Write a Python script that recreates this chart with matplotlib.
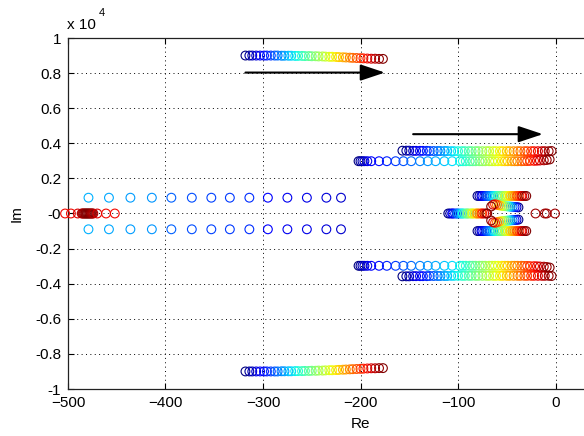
import numpy as np
import matplotlib
matplotlib.use('Agg')
import matplotlib.pyplot as plt

plt.rcParams['font.family'] = ['Liberation Sans', 'DejaVu Sans']

# root locus, Im axis in units of 1e4, each branch ordered by gain (jet colour)
top_re = [-318, -314, -311, -307, -303, -299, -296, -292, -288, -285,
          -281, -278, -274, -271, -267, -264, -260, -257, -253, -250,
          -246, -243, -239, -236, -232, -229, -225, -222, -218, -215,
          -211, -208, -204, -200, -197, -193, -189, -185, -181, -177]
top_im = [0.900, 0.900, 0.900, 0.900, 0.900, 0.900, 0.900, 0.900, 0.900, 0.900,
          0.899, 0.899, 0.899, 0.899, 0.898, 0.898, 0.898, 0.897, 0.897, 0.896,
          0.896, 0.895, 0.895, 0.894, 0.893, 0.893, 0.892, 0.891, 0.890, 0.889,
          0.888, 0.887, 0.886, 0.885, 0.884, 0.883, 0.882, 0.882, 0.881, 0.881]

outer_re = [-157, -153, -150, -146, -143, -139, -136, -132, -129, -125,
            -121, -118, -114, -111, -107, -104, -100, -96, -93, -89,
            -86, -82, -79, -75, -71, -68, -64, -61, -57, -54,
            -50, -47, -43, -39, -36, -32, -29, -25, -22, -18,
            -14, -11, -7, -4]
outer_im = [0.358, 0.358, 0.358, 0.357, 0.357, 0.357, 0.357, 0.357, 0.356, 0.356,
            0.356, 0.356, 0.356, 0.356, 0.355, 0.355, 0.355, 0.355, 0.355, 0.355,
            0.355, 0.355, 0.355, 0.355, 0.355, 0.355, 0.355, 0.355, 0.355, 0.355,
            0.355, 0.355, 0.355, 0.355, 0.355, 0.355, 0.355, 0.355, 0.355, 0.355,
            0.355, 0.355, 0.355, 0.356]

inner_re = [-202, -200, -198, -196, -193,
            -189, -181, -173, -164, -156, -148, -139, -131, -123, -114, -106, -98,
            -95, -92, -88, -85, -82, -78, -75, -72, -68, -65,
            -62, -59, -55, -52, -49, -45, -42, -39, -35, -32,
            -29, -26, -22, -19, -16, -12, -9, -6]
inner_im = [0.298, 0.298, 0.298, 0.298, 0.298,
            0.298, 0.298, 0.298, 0.298, 0.298, 0.298, 0.298, 0.298, 0.298, 0.298, 0.298, 0.298,
            0.298, 0.298, 0.298, 0.298, 0.298, 0.298, 0.298, 0.298, 0.298, 0.298,
            0.298, 0.298, 0.298, 0.298, 0.298, 0.298, 0.298, 0.298, 0.298, 0.299,
            0.299, 0.300, 0.300, 0.301, 0.302, 0.303, 0.305, 0.308]

far_re = [-479, -458, -436, -414, -394, -373, -353, -334, -314, -295, -275, -255, -235, -220]
far_im = [0.09, 0.09, 0.09, 0.09, 0.09, 0.09, 0.09, 0.09, 0.09, 0.09, 0.09, 0.09, 0.09, 0.09]
far_t = [0.30, 0.29, 0.28, 0.27, 0.22, 0.20, 0.19, 0.18, 0.17, 0.12, 0.10, 0.09, 0.08, 0.07]

left_real_re = [-503, -497, -490, -486, -485, -484, -483, -482, -481, -480,
                -479, -478, -477, -476, -475, -474, -470, -461, -452]
left_real_t = [0.90, 0.90, 0.92, 0.95, 0.96, 0.97, 0.98, 0.99, 1.00, 1.00,
               1.00, 1.00, 0.99, 0.98, 0.97, 0.96, 0.92, 0.90, 0.90]

near_re = [-80, -78, -76, -75, -73, -71, -70, -68, -66, -64,
           -63, -61, -59, -58, -56, -54, -52, -51, -49, -47,
           -46, -44, -42, -40, -39, -37, -35, -34, -32, -30]
near_im = [0.10, 0.10, 0.10, 0.10, 0.10, 0.10, 0.10, 0.10, 0.10, 0.10,
           0.10, 0.10, 0.10, 0.10, 0.10, 0.10, 0.10, 0.10, 0.10, 0.10,
           0.10, 0.10, 0.10, 0.10, 0.10, 0.10, 0.10, 0.10, 0.10, 0.10]

mid_real_re = [-110, -108, -106, -105, -103, -101, -100, -98, -96, -95,
               -93, -91, -90, -88, -86, -85, -83, -81, -80, -78,
               -76, -75, -73, -71, -70]

pair_re = [-38, -40, -42, -44, -46, -48, -50, -52, -54, -56, -58, -60, -62, -64, -66]
pair_im = [0.035, 0.036, 0.037, 0.038, 0.039, 0.040, 0.041, 0.042, 0.043, 0.045,
           0.047, 0.050, 0.053, 0.050, 0.040]

right_real_re = [-20.5, -11, -9, -0.5]
right_real_t = [0.97, 0.97, 0.97, 0.97]

fig = plt.figure(figsize=(5.84, 4.36), dpi=100)
ax = fig.add_axes([68 / 584, 47 / 436, 585 / 584, 351 / 436])


def locus(re, im, t=None, mirror=True):
    if t is None:
        t = np.linspace(0, 1, len(re))
    cols = plt.cm.jet(np.asarray(t))
    ax.scatter(re, im, s=40, facecolors='none', edgecolors=cols,
               linewidths=0.8, clip_on=False, zorder=3)
    if mirror:
        ax.scatter(re, -np.asarray(im), s=40, facecolors='none', edgecolors=cols,
                   linewidths=0.8, clip_on=False, zorder=3)


locus(top_re, top_im)
locus(outer_re, outer_im)
locus(inner_re, inner_im)
locus(far_re, far_im, far_t)
locus(left_real_re, np.zeros(len(left_real_re)), left_real_t, mirror=False)
locus(mid_real_re, np.zeros(len(mid_real_re)), mirror=False)
locus(near_re, near_im)
locus(pair_re, pair_im)
locus(right_real_re, np.zeros(len(right_real_re)), right_real_t, mirror=False)

arrow = dict(arrowstyle='-|>,head_length=0.75,head_width=0.25', color='k',
             lw=1.5, mutation_scale=20, shrinkA=0, shrinkB=0)
ax.annotate('', xy=(-175, 0.803), xytext=(-318, 0.803), arrowprops=arrow, zorder=4)
ax.annotate('', xy=(-13, 0.452), xytext=(-146, 0.452), arrowprops=arrow, zorder=4)

ax.set_xlim(-500, 100)
ax.set_ylim(-1, 1)
ax.set_xticks(np.arange(-500, 1, 100))
yt = np.round(np.arange(-1, 1.01, 0.2), 1)
ax.set_yticks(yt)
ax.set_yticklabels(['%g' % v for v in yt])
ax.grid(True, color='k', linestyle=(0, (1, 3.5)), linewidth=0.7)
ax.tick_params(direction='in', length=4, width=0.8, top=True, right=True,
               labelsize=11, pad=5)
for s in ax.spines.values():
    s.set_linewidth(0.9)
    s.set_color('#222222')

ax.set_xlabel('Re', fontsize=11, labelpad=5)
ax.set_ylabel('Im', fontsize=11, labelpad=8)

fig.text(67 / 584, 1 - 29 / 436, 'x 10', fontsize=11)
fig.text(99 / 584, 1 - 16 / 436, '4', fontsize=8)

fig.savefig('out.png', dpi=100)
